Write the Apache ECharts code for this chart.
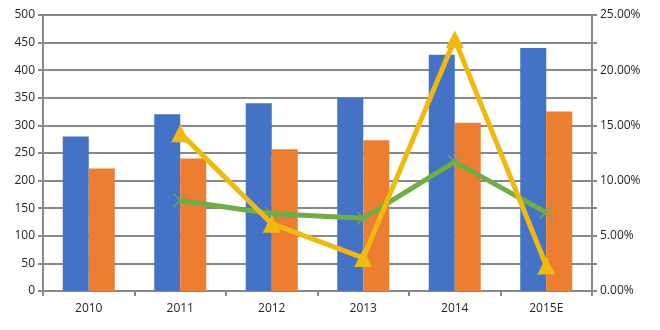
<!DOCTYPE html>
<html>
<head>
<meta charset="utf-8">
<script src="https://cdn.jsdelivr.net/npm/echarts@6/dist/echarts.min.js"></script>
<style>html,body{margin:0;padding:0;background:#fff}#c{width:660px;height:330px}</style>
</head>
<body>
<div id="c"></div>
<script>
var categories = ['2010', '2011', '2012', '2013', '2014', '2015E'];
var blueValues = [280, 320, 340, 350, 428, 440];
var orangeValues = [222, 240, 257, 273, 305, 325];
var yellowPct = [null, 14.3, 6.1, 3.0, 22.8, 2.3];
var greenPct = [null, 8.2, 7.0, 6.6, 11.7, 7.1];
var leftTicks = [0, 50, 100, 150, 200, 250, 300, 350, 400, 450, 500];
var rightTicks = ['0.00%', '5.00%', '10.00%', '15.00%', '20.00%', '25.00%'];

var gray = '#898989';
var font = 'Open Sans';
var xPath = 'path://M0,1.2L1.2,0L10,8.8L18.8,0L20,1.2L11.2,10L20,18.8L18.8,20L10,11.2L1.2,20L0,18.8L8.8,10Z';

var chart = echarts.init(document.getElementById('c'));
chart.setOption({
  animation: false,
  backgroundColor: '#fff',
  grid: { left: 43, right: 68, top: 15, bottom: 39 },
  xAxis: {
    type: 'category',
    data: categories,
    axisLine: { lineStyle: { color: gray, width: 2 } },
    axisTick: { show: true, length: 5, lineStyle: { color: gray, width: 2 } },
    axisLabel: { color: '#262626', fontFamily: font, fontSize: 12, margin: 12 }
  },
  yAxis: [{
    type: 'value', min: 0, max: 500, interval: 50,
    axisLine: { show: true, lineStyle: { color: gray, width: 2 } },
    axisTick: { show: true, length: 5, lineStyle: { color: gray, width: 2 } },
    splitLine: { lineStyle: { color: gray, width: 2 } },
    axisLabel: { color: '#262626', fontFamily: font, fontSize: 12, margin: 8,
      formatter: function (v) { return leftTicks.indexOf(v) >= 0 ? String(v) : ''; } }
  }, {
    type: 'value', min: 0, max: 25, interval: 2.5, position: 'right',
    axisLine: { show: true, lineStyle: { color: gray, width: 2 } },
    axisTick: { show: true, length: 5, lineStyle: { color: gray, width: 2 } },
    splitLine: { show: false },
    axisLabel: { color: '#262626', fontFamily: font, fontSize: 12, margin: 8,
      formatter: function (v) {
        var k = Math.round(v * 10);
        if (k % 50 !== 0) return '';
        return rightTicks[k / 50];
      } }
  }],
  series: [{
    type: 'bar', data: blueValues, barWidth: 26, barGap: '0%',
    itemStyle: { color: '#4472C4' }
  }, {
    type: 'bar', data: orangeValues, barWidth: 26,
    itemStyle: { color: '#ED7D31' }
  }, {
    type: 'line', yAxisIndex: 1, data: yellowPct, connectNulls: false,
    lineStyle: { color: '#F0B90F', width: 5 },
    itemStyle: { color: '#F0B90F' },
    symbol: 'triangle', symbolSize: 18, showAllSymbol: true, z: 4
  }, {
    type: 'line', yAxisIndex: 1, data: greenPct,
    lineStyle: { color: '#70AD47', width: 5 },
    itemStyle: { color: '#70AD47' },
    symbol: xPath, symbolSize: 14, showAllSymbol: true, z: 3
  }]
});
</script>
</body>
</html>
